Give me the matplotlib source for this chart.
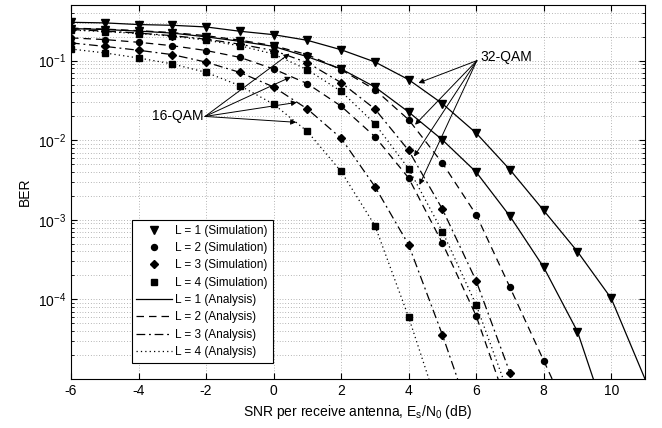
import numpy as np
import matplotlib.pyplot as plt
from matplotlib.ticker import LogLocator, NullFormatter, NullLocator

plt.rcParams['font.family'] = ['Liberation Sans', 'DejaVu Sans']
plt.rcParams['mathtext.default'] = 'regular'
plt.rcParams['axes.unicode_minus'] = False

# SNR grid (dB) of the simulation points
snr = np.arange(-6, 11)

# 16-QAM, simulated BER (starting at -6 dB)
ber16_L1 = [0.253, 0.246, 0.235, 0.222, 0.199, 0.175, 0.151, 0.112, 0.0787, 0.0467,
            0.0226, 0.0101, 0.00398, 0.00111, 2.53e-4, 3.94e-5]
ber16_L2 = [0.193, 0.184, 0.170, 0.154, 0.134, 0.110, 0.0786, 0.0514, 0.0268, 0.0111,
            0.00335, 5.09e-4, 6.2e-5]
ber16_L3 = [0.167, 0.151, 0.135, 0.119, 0.0958, 0.0712, 0.0467, 0.0247, 0.0106, 0.00262,
            4.85e-4, 3.58e-5]
ber16_L4 = [0.140, 0.125, 0.108, 0.0909, 0.0712, 0.0485, 0.0284, 0.0129, 0.00405, 8.48e-4,
            5.97e-5]

# 32-QAM, simulated BER
ber32_L1 = [0.303, 0.298, 0.284, 0.278, 0.265, 0.234, 0.212, 0.180, 0.137, 0.0963,
            0.0577, 0.0288, 0.0123, 0.00426, 0.00131, 3.99e-4, 1.03e-4]
ber32_L2 = [0.256, 0.249, 0.238, 0.225, 0.206, 0.181, 0.154, 0.119, 0.0770, 0.0432,
            0.0181, 0.00516, 0.00116, 1.42e-4, 1.70e-5]
ber32_L3 = [0.246, 0.235, 0.222, 0.206, 0.186, 0.161, 0.134, 0.0944, 0.0529, 0.0247,
            0.00744, 0.00136, 1.71e-4, 1.20e-5]
ber32_L4 = [0.242, 0.232, 0.219, 0.203, 0.181, 0.154, 0.121, 0.0770, 0.0411, 0.0161,
            0.00438, 7.12e-4, 8.53e-5]

# where the analysis curves leave the plot at BER = 1e-5
end16 = [9.47, 6.65, 5.45, 4.6]
end32 = [11.0, 8.25, 7.1, 6.8]
ber_floor = 1e-5

sims16 = [ber16_L1, ber16_L2, ber16_L3, ber16_L4]
sims32 = [ber32_L1, ber32_L2, ber32_L3, ber32_L4]

markers = ['v', 'o', 'D', 's']
msizes = [6, 4.3, 4.3, 4.6]
lstyles = ['-', (0, (6, 4)), (0, (7, 3, 1.5, 3)), (0, (1, 2.5))]

fig = plt.figure(figsize=(6.62, 4.28), dpi=100)
ax = fig.add_axes([71 / 662, 1 - 379 / 428, 574 / 662, 374 / 428])

sim_h = []
ana_h = []
for i in range(4):
    for sims, ends in ((sims16, end16), (sims32, end32)):
        y = sims[i]
        x = snr[:len(y)]
        xa = np.append(x, ends[i])
        ya = np.append(y, ber_floor)
        la, = ax.plot(xa, ya, color='k', lw=0.9, linestyle=lstyles[i],
                      label=f'L = {i + 1} (Analysis)')
        ls, = ax.plot(x, y, linestyle='none', marker=markers[i], ms=msizes[i],
                      color='k', label=f'L = {i + 1} (Simulation)')
    sim_h.append(ls)
    ana_h.append(la)

ax.set_yscale('log')
ax.set_xlim(-6, 11)
ax.set_ylim(1e-5, 0.5)
ax.set_xticks(np.arange(-6, 11, 2))
ax.set_yticks([1e-4, 1e-3, 1e-2, 1e-1])
ax.yaxis.set_minor_locator(LogLocator(base=10, subs=np.arange(2, 10), numticks=20))
ax.yaxis.set_minor_formatter(NullFormatter())
ax.xaxis.set_minor_locator(NullLocator())
ax.tick_params(which='both', direction='in', top=True, right=True, labelsize=10)
ax.tick_params(which='major', length=4)
ax.tick_params(which='minor', length=2)
ax.grid(True, which='both', linestyle=(0, (1, 3)), color='0.45', linewidth=0.5)

ax.set_xlabel(r'SNR per receive antenna, $E_s/N_0$ (dB)', fontsize=10)
ax.set_ylabel('BER', fontsize=10)

# arrows to the curve groups
ax.text(-2.09, 0.0199, '16-QAM', ha='right', va='center', fontsize=10)
for tip in [(0.47, 0.1225), (0.51, 0.0624), (0.69, 0.0299), (0.67, 0.0168)]:
    ax.annotate('', xy=tip, xytext=(-2.03, 0.0199),
                arrowprops=dict(arrowstyle='-|>', color='k', lw=0.7,
                                mutation_scale=8, shrinkA=0, shrinkB=0))
ax.text(6.12, 0.112, '32-QAM', ha='left', va='center', fontsize=10)
for tip in [(4.29, 0.0524), (4.19, 0.01567), (4.16, 0.00625), (4.32, 0.00275)]:
    ax.annotate('', xy=tip, xytext=(6.02, 0.1),
                arrowprops=dict(arrowstyle='-|>', color='k', lw=0.7,
                                mutation_scale=8, shrinkA=0, shrinkB=0))

leg = ax.legend(handles=sim_h + ana_h, loc='lower left',
                bbox_to_anchor=(0.1057, 0.0436), borderaxespad=0,
                fontsize=8.5, fancybox=False, edgecolor='k', framealpha=1,
                handlelength=3.0, labelspacing=0.45, handletextpad=0.3)
leg.get_frame().set_linewidth(0.8)

fig.savefig('out.png', dpi=100)
